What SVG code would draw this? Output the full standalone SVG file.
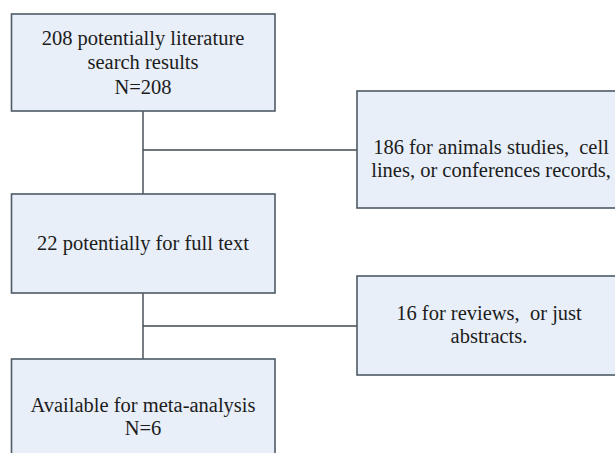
<svg xmlns="http://www.w3.org/2000/svg" width="615" height="453" viewBox="0 0 615 453">
<style>
.box{fill:#e8eff8;stroke:#4d5b66;stroke-width:1.6}
.t{font-family:'Liberation Serif','Times New Roman',Tinos,'DejaVu Serif',serif;font-size:20.5px;fill:#1c1c1c;text-anchor:middle;white-space:pre}
.c{stroke:#3f4850;stroke-width:1.4;fill:none}
</style>
<rect width="615" height="453" fill="#ffffff"/>
<g id="connectors">
<path class="c" d="M143 111V194M143 150H357"/>
<path class="c" d="M143 293V359M143 326H357"/>
</g>
<g id="n1">
<rect class="box" x="11.5" y="14" width="263.5" height="97"/>
<text class="t" x="143" y="45">208 potentially literature</text>
<text class="t" x="143" y="69">search results</text>
<text class="t" x="143" y="94">N=208</text>
</g>
<g id="n2">
<rect class="box" x="357" y="91" width="270" height="117"/>
<text class="t" x="491" y="154" xml:space="preserve">186 for animals studies,  cell</text>
<text class="t" x="491" y="177">lines, or conferences records,</text>
</g>
<g id="n3">
<rect class="box" x="11.5" y="194" width="263.5" height="99"/>
<text class="t" x="143" y="250">22 potentially for full text</text>
</g>
<g id="n4">
<rect class="box" x="357" y="276" width="270" height="99"/>
<text class="t" x="489" y="320" xml:space="preserve">16 for reviews,  or just</text>
<text class="t" x="489" y="343">abstracts.</text>
</g>
<g id="n5">
<rect class="box" x="11.5" y="359" width="263.5" height="110"/>
<text class="t" x="143" y="412">Available for meta-analysis</text>
<text class="t" x="143" y="435">N=6</text>
</g>
</svg>
